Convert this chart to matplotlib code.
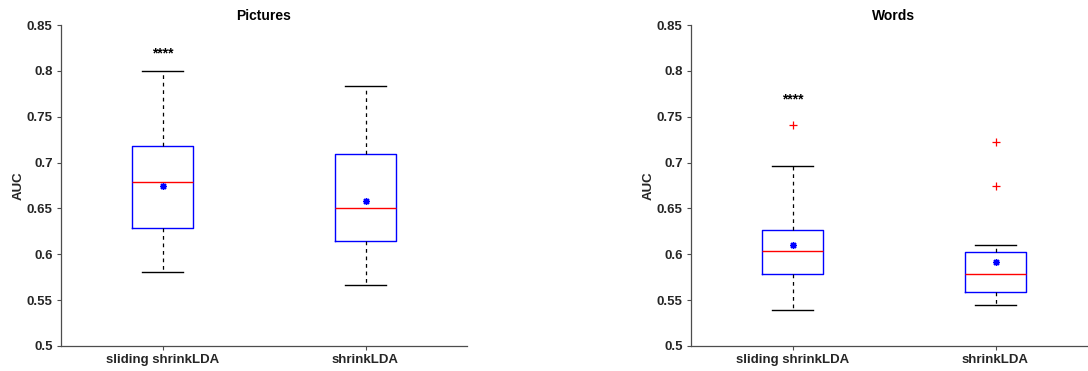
"""Boxplots of AUC for sliding shrinkLDA vs shrinkLDA (Pictures / Words)."""
import matplotlib
matplotlib.use('Agg')
import matplotlib.pyplot as plt

methods = ['sliding shrinkLDA', 'shrinkLDA']
panel_titles = ['Pictures', 'Words']

# per panel: [low whisker, Q1, median, Q3, high whisker], mean, outliers
pictures_stats = [[0.581, 0.629, 0.679, 0.718, 0.800],
                  [0.566, 0.615, 0.651, 0.709, 0.784]]
pictures_means = [0.675, 0.658]
pictures_fliers = [[], []]

words_stats = [[0.539, 0.579, 0.604, 0.627, 0.696],
               [0.545, 0.559, 0.579, 0.603, 0.610]]
words_means = [0.610, 0.592]
words_fliers = [[0.741], [0.722, 0.674]]

# significance stars: (box index, height)
pictures_sig = [(0, 0.819)]
words_sig = [(0, 0.769)]

yticks = [0.5, 0.55, 0.6, 0.65, 0.7, 0.75, 0.8, 0.85]

plt.rcParams['font.family'] = ['Liberation Sans', 'DejaVu Sans']
plt.rcParams['font.weight'] = 'bold'
AXIS_COLOR = '#4d4d4d'
TEXT_COLOR = '#262626'


def box_panel(ax, stats, means, fliers, sig, title):
    bxp_stats = []
    for name, s, m, f in zip(methods, stats, means, fliers):
        bxp_stats.append({'label': name, 'whislo': s[0], 'q1': s[1], 'med': s[2],
                          'q3': s[3], 'whishi': s[4], 'mean': m, 'fliers': f})
    ax.bxp(bxp_stats, positions=[1, 2], widths=0.3, showmeans=True, capwidths=0.2,
           boxprops=dict(color='#0000ff', linewidth=1.0),
           medianprops=dict(color='#ff0000', linewidth=1.0),
           whiskerprops=dict(color='black', linewidth=0.9, linestyle=(0, (3, 3))),
           capprops=dict(color='black', linewidth=1.0),
           meanprops=dict(marker=(8, 2, 0), markerfacecolor='#0000ff', markeredgecolor='#0000ff',
                          markersize=5, markeredgewidth=1.0, linestyle='none'),
           flierprops=dict(marker='+', markeredgecolor='#ff0000', markersize=6,
                           markeredgewidth=0.9, linestyle='none'))
    for idx, h in sig:
        ax.text(idx + 1, h, '****', ha='center', va='center', fontsize=10,
                fontweight='bold', color='black')
    ax.set_xlim(0.5, 2.5)
    ax.set_ylim(0.5, 0.85)
    ax.set_yticks(yticks)
    ax.set_yticklabels([f'{t:g}' for t in yticks])
    ax.set_ylabel('AUC', fontsize=9.5, fontweight='bold', color=TEXT_COLOR, labelpad=1.5)
    ax.set_title(title, fontsize=10, fontweight='bold', color='black', pad=3.5)
    for side in ['top', 'right']:
        ax.spines[side].set_visible(False)
    for side in ['left', 'bottom']:
        ax.spines[side].set_color(AXIS_COLOR)
        ax.spines[side].set_linewidth(0.9)
    ax.tick_params(direction='out', length=3, width=0.8, color=AXIS_COLOR,
                   labelcolor=TEXT_COLOR, labelsize=9.5, pad=3)


fig = plt.figure(figsize=(10.88, 3.71), dpi=100)
ax1 = fig.add_axes([61 / 1088, 25 / 371, 406 / 1088, 321 / 371])
ax2 = fig.add_axes([691 / 1088, 25 / 371, 406 / 1088, 321 / 371])

box_panel(ax1, pictures_stats, pictures_means, pictures_fliers, pictures_sig, panel_titles[0])
box_panel(ax2, words_stats, words_means, words_fliers, words_sig, panel_titles[1])

fig.savefig('out.png', dpi=100)
